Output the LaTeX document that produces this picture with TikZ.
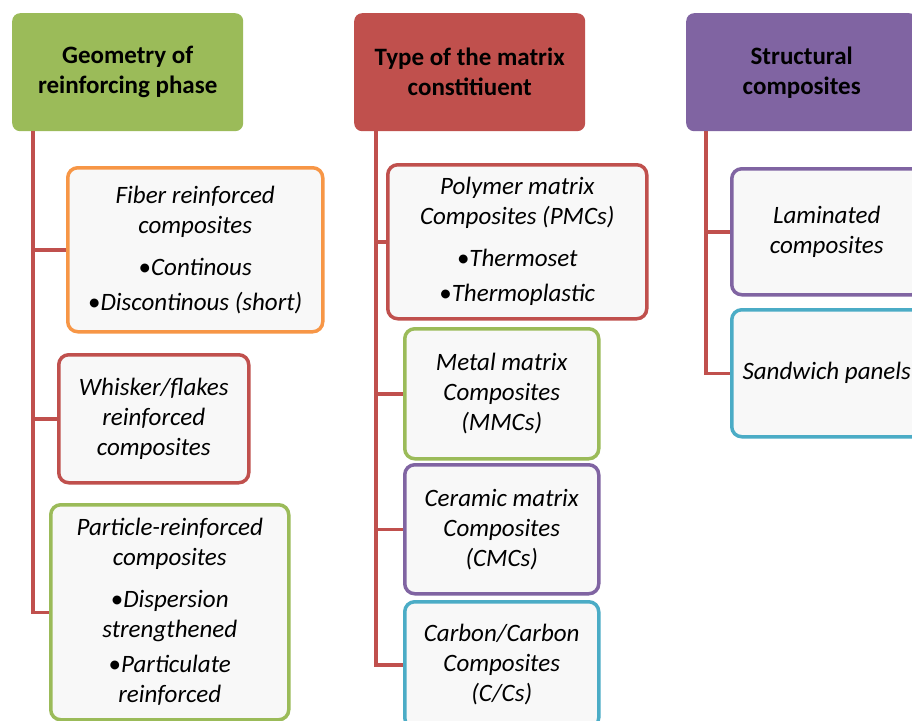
\documentclass[tikz,border=0pt]{standalone}
\usepackage{fontspec}
\setmainfont{Carlito}
\usepackage{tikz}
\usetikzlibrary{positioning,calc}
\definecolor{hdgreen}{HTML}{9BBB59}
\definecolor{hdred}{HTML}{C0504D}
\definecolor{hdpurple}{HTML}{8064A2}
\definecolor{bxorange}{HTML}{F79646}
\definecolor{bxblue}{HTML}{4BACC6}
\definecolor{bxfill}{HTML}{F8F8F8}
\newcommand{\bul}{{\upshape\textbullet}}

\begin{document}
\begin{tikzpicture}[x=1pt, y=-1pt,
	head/.style={rounded corners=8pt, anchor=north west, align=center, inner sep=0pt, minimum width=231pt, minimum height=118pt, font=\fontsize{25}{30}\selectfont\bfseries},
	item/.style={draw, line width=3.5pt, fill=bxfill, rounded corners=10pt, anchor=north west, align=center, inner sep=0pt, font=\fontsize{25}{30}\selectfont\itshape},
	trunk/.style={hdred, line width=3.5pt}]
			\clip (0,0) rectangle (912,720);
			\fill[white] (0,0) rectangle (912,720);
			\node[head, fill=hdgreen] (geo) at (12,13) {Geometry of\\reinforcing phase};
			\node[head, fill=hdred] (matrix) at (354,13) {Type of the matrix\\constitiuent};
			\node[head, fill=hdpurple] (struct) at (686,13) {Structural\\composites};
			\node[item, draw=bxorange, minimum width=255pt, minimum height=164pt] (fiber) at (66,166) {Fiber reinforced\\composites\\[12pt]\bul Continous\\[5pt]\bul Discontinous (short)};
			\node[item, draw=hdred, minimum width=190pt, minimum height=128pt] (whisker) at (57,353) {Whisker/flakes\\reinforced\\composites};
			\node[item, draw=hdgreen, minimum width=238pt, minimum height=215pt] (particle) at (49,503) {Particle-reinforced\\composites\\[12pt]\bul Dispersion\\strengthened\\[5pt]\bul Particulate\\reinforced};
			\node[item, draw=hdred, minimum width=259pt, minimum height=154pt] (pmc) at (386,163) {Polymer matrix\\Composites (PMCs)\\[12pt]\bul Thermoset\\[5pt]\bul Thermoplastic};
			\node[item, draw=hdgreen, minimum width=194pt, minimum height=130pt] (mmc) at (403,327) {Metal matrix\\Composites\\(MMCs)};
			\node[item, draw=hdpurple, minimum width=194pt, minimum height=129pt] (cmc) at (403,463) {Ceramic matrix\\Composites\\(CMCs)};
			\node[item, draw=bxblue, minimum width=194pt, minimum height=126pt] (ccc) at (403,600) {Carbon/Carbon\\Composites\\(C/Cs)};
			\node[item, draw=hdpurple, minimum width=190pt, minimum height=126pt] (lam) at (730,167) {Laminated\\composites};
			\node[item, draw=bxblue, minimum width=190pt, minimum height=127pt] (sand) at (730,308) {Sandwich panels};
			\draw[trunk] ([xshift=21pt]geo.south west) |- (fiber.west);
			\draw[trunk] ([xshift=21pt]geo.south west) |- (whisker.west);
			\draw[trunk] ([xshift=21pt]geo.south west) |- (particle.west);
			\draw[trunk] ([xshift=22pt]matrix.south west) |- (pmc.west);
			\draw[trunk] ([xshift=22pt]matrix.south west) |- (mmc.west);
			\draw[trunk] ([xshift=22pt]matrix.south west) |- (cmc.west);
			\draw[trunk] ([xshift=22pt]matrix.south west) |- (ccc.west);
			\draw[trunk] ([xshift=20pt]struct.south west) |- (lam.west);
			\draw[trunk] ([xshift=20pt]struct.south west) |- (sand.west);
			\end{tikzpicture}
\end{document}
